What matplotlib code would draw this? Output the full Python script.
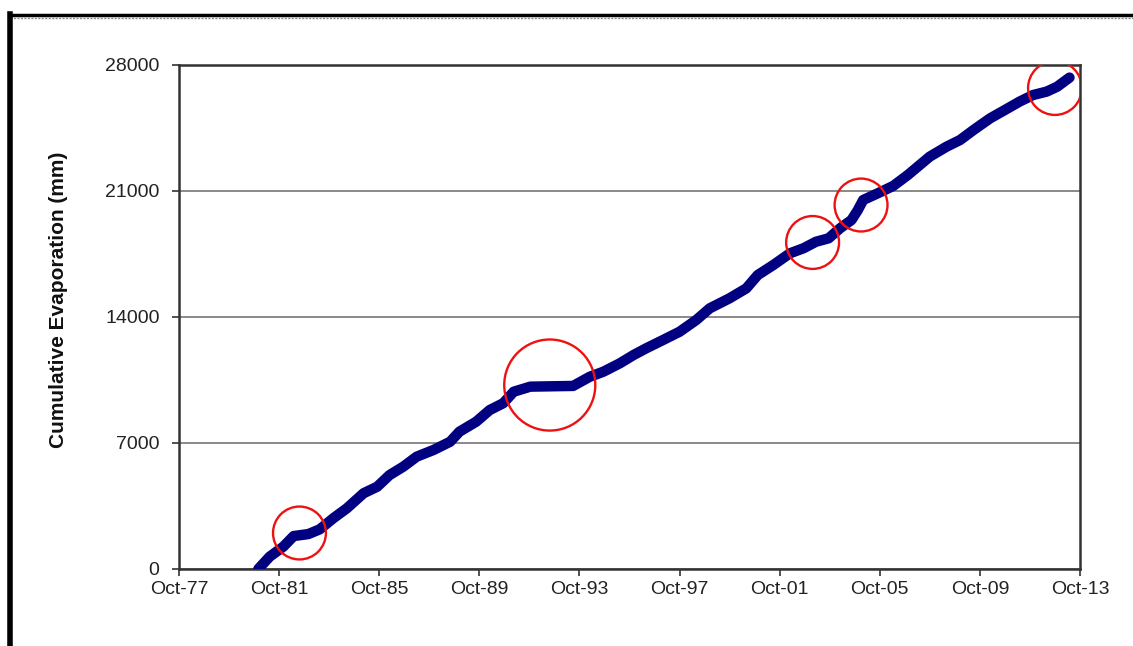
import matplotlib
matplotlib.use("Agg")
import matplotlib.pyplot as plt
import matplotlib.dates as mdates
from matplotlib.lines import Line2D
import pandas as pd

# cumulative evaporation record
dates = ["1980-12-01", "1981-05-15", "1981-12-01", "1982-05-01", "1982-12-01", "1983-05-15",
         "1983-12-01", "1984-06-15", "1985-02-15", "1985-09-01", "1986-03-01", "1986-09-15",
         "1987-04-01", "1987-12-01", "1988-08-01", "1988-12-15", "1989-08-15", "1990-03-01",
         "1990-09-15", "1991-02-15", "1991-10-15", "1993-07-01", "1994-03-01", "1994-09-15",
         "1995-05-15", "1995-12-01", "1996-06-01", "1997-02-01", "1997-10-01", "1998-06-01",
         "1998-12-15", "1999-10-01", "2000-06-01", "2000-11-15", "2001-07-01", "2002-03-01",
         "2002-09-15", "2003-03-15", "2003-09-15", "2004-03-01", "2004-08-15", "2004-11-15",
         "2005-02-01", "2005-09-01", "2006-04-15", "2006-11-15", "2007-10-01", "2008-06-01",
         "2008-12-15", "2009-07-01", "2010-03-01", "2010-10-01", "2011-05-01", "2011-11-15",
         "2012-06-01", "2012-11-01", "2013-05-01"]
evap_mm = [0, 680, 1240, 1830, 1940, 2200,
           2820, 3370, 4210, 4570, 5220, 5680,
           6240, 6610, 7070, 7630, 8180, 8830,
           9210, 9850, 10130, 10170, 10680, 10960,
           11430, 11890, 12260, 12720, 13180, 13830,
           14480, 15040, 15590, 16330, 16890, 17540,
           17820, 18180, 18370, 18930, 19390, 19940,
           20500, 20870, 21280, 21890, 22910, 23460,
           23830, 24390, 25040, 25500, 25960, 26330,
           26520, 26790, 27300]

# highlighted periods (centre date, centre value, marker size)
highlight_dates = ["1982-07-25", "1992-07-25", "2003-01-25", "2005-01-01", "2012-10-01"]
highlight_vals = [2000, 10220, 18140, 20220, 26720]
highlight_sizes = [1450, 4300, 1450, 1450, 1500]

yticks = [0, 7000, 14000, 21000, 28000]

plt.rcParams["font.family"] = ["Liberation Sans", "DejaVu Sans"]

fig = plt.figure(figsize=(11.33, 6.46), dpi=100)
ax = fig.add_axes([0.158, 0.1192, 0.7952, 0.7802])

x = pd.to_datetime(dates)
ax.plot(x, evap_mm, color="#000080", lw=7.5, solid_capstyle="round",
        solid_joinstyle="round", zorder=3)

ax.scatter(pd.to_datetime(highlight_dates), highlight_vals, s=highlight_sizes,
           facecolors="none", edgecolors="#ee1111", linewidths=1.7, zorder=4)

ax.set_xlim(pd.Timestamp("1977-10-01"), pd.Timestamp("2013-10-01"))
ax.set_ylim(0, 28000)
ax.set_yticks(yticks)
ax.set_yticklabels([str(v) for v in yticks])
ax.set_xticks(pd.to_datetime([f"{y}-10-01" for y in range(1977, 2014, 4)]))
ax.xaxis.set_major_formatter(mdates.DateFormatter("%b-%y"))

ax.yaxis.grid(True, color="#808080", lw=1.3)
ax.set_axisbelow(True)
for s in ax.spines.values():
    s.set_color("#333333")
    s.set_linewidth(1.8)

ax.tick_params(axis="both", colors="#333333", labelcolor="#222222", labelsize=14,
               length=5, width=1.2, direction="out")
ax.tick_params(axis="y", pad=9)
ax.tick_params(axis="x", pad=4)

ax.set_ylabel("Cumulative Evaporation (mm)", fontsize=15, fontweight="bold",
              family=["Liberation Sans Narrow", "Liberation Sans"], color="#111111")
ax.yaxis.set_label_coords(-0.123, 0.534)

# page frame
fig.add_artist(Line2D([0.009, 1.0], [0.9775, 0.9775], color="black", lw=2.5,
                      transform=fig.transFigure))
fig.add_artist(Line2D([0.009, 1.0], [0.9715, 0.9715], color="#888888", lw=1.0,
                      ls=(0, (1.5, 1)), transform=fig.transFigure))
fig.add_artist(Line2D([0.0085, 0.0085], [0.0, 0.979], color="black", lw=4,
                      transform=fig.transFigure))

fig.savefig("out.png", dpi=100, facecolor="white")
